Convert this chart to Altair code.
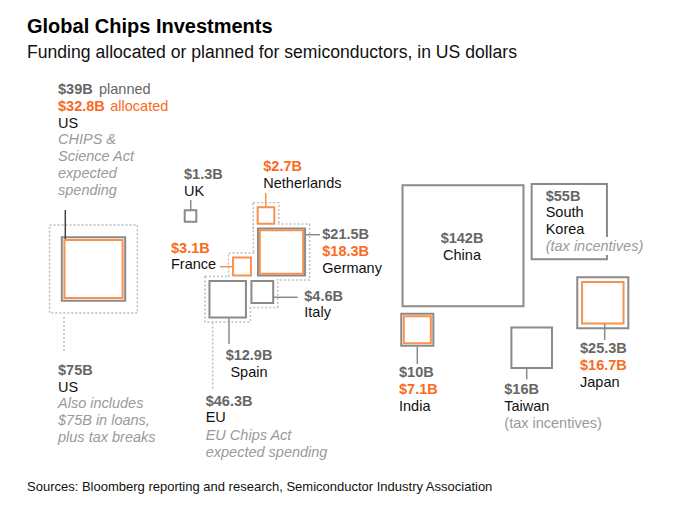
import altair as alt
import pandas as pd
import numpy as np

# ---------------- data (US$ billions) ----------------
countries = ["US", "UK", "Netherlands", "Germany", "France", "Italy", "Spain",
             "China", "South Korea", "India", "Taiwan", "Japan"]
planned = [39, 1.3, None, 21.5, None, 4.6, 12.9, 142, 55, 10, 16, 25.3]
allocated = [32.8, None, 2.7, 18.3, 3.1, None, None, None, None, 7.1, None, 16.7]
us_total = 75
eu_total = 46.3
eu_members = ["Netherlands", "Germany", "France", "Italy", "Spain"]

# ---------------- layout (square centres, in page pixels) ----------------
center_x = [93.5, 190.5, 266, 281.5, 242, 262.3, 227.7, 463, 569.3, 417.3, 531.7, 602.8]
center_y = [269, 216, 215.5, 252, 266.5, 292, 299.3, 245.8, 221.7, 329.7, 347.7, 302.7]

K = 10.15      # px of side per sqrt($B)
PAD = 9        # extra side for the dotted EU outline

ORANGE_TXT = "#fb6a22"
ORANGE_BOX = "#f8914d"
GRAY_BOX = "#8a8a8a"
GRAY_TXT = "#666666"
NOTE = "#9a9a9a"
DOT = "#bdbdbd"
FONT = "Liberation Sans"

W, H = 672, 495
xs = alt.Scale(domain=[8, 8 + W], range=[0, W], zero=False, nice=False)
ys = alt.Scale(domain=[8, 8 + H], range=[0, H], zero=False, nice=False)
size_scale = alt.Scale(domain=[0, 100], range=[0, 100 * K * K], zero=True)

sq = pd.DataFrame({"country": countries, "planned": planned, "allocated": allocated,
                   "cx": center_x, "cy": center_y})
gray_df = sq.dropna(subset=["planned"]).rename(columns={"planned": "value"})
orange_df = sq.dropna(subset=["allocated"]).rename(columns={"allocated": "value"})

us_df = sq[sq.country == "US"].assign(value=us_total)

eu = sq[sq.country.isin(eu_members)].copy()
eu["value"] = eu["planned"].fillna(eu["allocated"])
eu["side"] = K * np.sqrt(eu["value"]) + PAD
eu["outline_size"] = eu["side"] ** 2
eu["cover_size"] = (eu["side"] - 2) ** 2

def X(f="cx"):
    return alt.X(f"{f}:Q", scale=xs, axis=None)

def Y(f="cy"):
    return alt.Y(f"{f}:Q", scale=ys, axis=None)

layers = []
# US dotted total square
layers.append(alt.Chart(us_df).mark_square(filled=False, stroke=DOT, strokeWidth=1.5,
                                           strokeDash=[2, 2], opacity=1).encode(
    x=X(), y=Y(), size=alt.Size("value:Q", scale=size_scale, legend=None)))
# EU dotted outline (union of padded member squares)
layers.append(alt.Chart(eu).mark_square(filled=False, stroke=DOT, strokeWidth=1.5,
                                        strokeDash=[2, 2], opacity=1).encode(
    x=X(), y=Y(), size=alt.Size("outline_size:Q", scale=None, legend=None)))
layers.append(alt.Chart(eu).mark_square(filled=True, color="white", opacity=1).encode(
    x=X(), y=Y(), size=alt.Size("cover_size:Q", scale=None, legend=None)))

# leaders
dotted_leaders = pd.DataFrame({"x": [64, 212.7], "y": [317, 322.5], "x2": [64, 212.7], "y2": [352, 388.5]})
layers.append(alt.Chart(dotted_leaders).mark_rule(color=DOT, strokeWidth=1.5, strokeDash=[2, 2]).encode(
    x=X("x"), y=Y("y"), x2="x2:Q", y2="y2:Q"))

# squares
layers.append(alt.Chart(gray_df).mark_square(filled=False, stroke=GRAY_BOX, strokeWidth=2, opacity=1).encode(
    x=X(), y=Y(), size=alt.Size("value:Q", scale=size_scale, legend=None)))
layers.append(alt.Chart(orange_df).mark_square(filled=False, stroke=ORANGE_BOX, strokeWidth=2, opacity=1).encode(
    x=X(), y=Y(), size=alt.Size("value:Q", scale=size_scale, legend=None)))

lead_x = [65.3, 190.7, 305.5, 274, 229, 417.3, 526.7, 604.7]
lead_y = [210, 200, 234.7, 297.3, 318.5, 346.5, 369, 324]
lead_x2 = [65.3, 190.7, 320, 297.7, 229, 417.3, 526.7, 604.7]
lead_y2 = [239, 210, 234.7, 297.3, 344, 364, 379.5, 340]
lead_c = ["#444444", GRAY_BOX, GRAY_BOX, GRAY_BOX, GRAY_BOX, GRAY_BOX, GRAY_BOX, GRAY_BOX]
gl = pd.DataFrame({"x": lead_x, "y": lead_y, "x2": lead_x2, "y2": lead_y2, "c": lead_c})
layers.append(alt.Chart(gl).mark_rule(strokeWidth=1.5).encode(
    x=X("x"), y=Y("y"), x2="x2:Q", y2="y2:Q", color=alt.Color("c:N", scale=None)))
ol = pd.DataFrame({"x": [265.7, 220], "y": [193, 266.7], "x2": [265.7, 233], "y2": [207, 266.7]})
layers.append(alt.Chart(ol).mark_rule(strokeWidth=1.5, color=ORANGE_BOX).encode(
    x=X("x"), y=Y("y"), x2="x2:Q", y2="y2:Q"))

# knockout behind South Korea note
ko = pd.DataFrame({"x": [603], "x2": [612], "y": [237], "y2": [255]})
layers.append(alt.Chart(ko).mark_rect(color="white", opacity=1).encode(
    x=X("x"), x2="x2:Q", y=Y("y"), y2="y2:Q"))

# ---------------- text ----------------
labels = [
    # text, x, y(baseline), style, align
    ("$39B", 58, 94.3, "val", "left"), ("planned", 99, 94.3, "gray", "left"),
    ("$32.8B", 58, 111, "valo", "left"), ("allocated", 110.3, 111, "orange", "left"),
    ("US", 58, 127.7, "name", "left"),
    ("CHIPS &", 58, 144.4, "note", "left"), ("Science Act", 58, 161.1, "note", "left"),
    ("expected", 58, 177.8, "note", "left"), ("spending", 58, 194.5, "note", "left"),
    ("$1.3B", 184, 179.3, "val", "left"), ("UK", 184, 196, "name", "left"),
    ("$2.7B", 263.3, 170.7, "valo", "left"), ("Netherlands", 263.3, 188, "name", "left"),
    ("$21.5B", 322.3, 239.3, "val", "left"), ("$18.3B", 322.3, 256, "valo", "left"),
    ("Germany", 322.3, 272.7, "name", "left"),
    ("$3.1B", 171, 252.7, "valo", "left"), ("France", 171, 269.3, "name", "left"),
    ("$4.6B", 304.3, 300.7, "val", "left"), ("Italy", 304.3, 317.3, "name", "left"),
    ("$12.9B", 249, 360, "val", "center"), ("Spain", 249, 377, "name", "center"),
    ("$46.3B", 205.7, 405.7, "val", "left"), ("EU", 205.7, 422.4, "name", "left"),
    ("EU Chips Act", 205.7, 439.5, "note", "left"), ("expected spending", 205.7, 456.5, "note", "left"),
    ("$75B", 58, 375, "val", "left"), ("US", 58, 391.7, "name", "left"),
    ("Also includes", 58, 408.4, "note", "left"), ("$75B in loans,", 58, 425.1, "note", "left"),
    ("plus tax breaks", 58, 441.8, "note", "left"),
    ("$142B", 462, 243.3, "val", "center"), ("China", 462, 260, "name", "center"),
    ("$55B", 545.7, 200.7, "val", "left"), ("South", 545.7, 217.3, "name", "left"),
    ("Korea", 545.7, 234, "name", "left"), ("(tax incentives)", 545.7, 250.7, "note", "left"),
    ("$10B", 399, 377.3, "val", "left"), ("$7.1B", 399, 394, "valo", "left"),
    ("India", 399, 410.7, "name", "left"),
    ("$16B", 504.3, 394, "val", "left"), ("Taiwan", 504.3, 410.7, "name", "left"),
    ("(tax incentives)", 504.3, 428.3, "tax", "left"),
    ("$25.3B", 580, 353.3, "val", "left"), ("$16.7B", 580, 370, "valo", "left"),
    ("Japan", 580, 386.7, "name", "left"),
]
tdf = pd.DataFrame(labels, columns=["text", "x", "y", "style", "align"])

styles = {
    "val": dict(fontWeight="bold", color=GRAY_TXT, fontStyle="normal"),
    "valo": dict(fontWeight="bold", color=ORANGE_TXT, fontStyle="normal"),
    "name": dict(fontWeight="normal", color="#111111", fontStyle="normal"),
    "note": dict(fontWeight="normal", color=NOTE, fontStyle="italic"),
    "gray": dict(fontWeight="normal", color=GRAY_TXT, fontStyle="normal"),
    "orange": dict(fontWeight="normal", color=ORANGE_TXT, fontStyle="normal"),
    "tax": dict(fontWeight="normal", color=NOTE, fontStyle="normal"),
}
for (st, al), sub in tdf.groupby(["style", "align"]):
    layers.append(alt.Chart(sub).mark_text(align=al, baseline="alphabetic", font=FONT,
                                           fontSize=14.5, **styles[st]).encode(
        x=X("x"), y=Y("y"), text="text:N"))

heads = pd.DataFrame({
    "text": ["Global Chips Investments",
             "Funding allocated or planned for semiconductors, in US dollars",
             "Sources: Bloomberg reporting and research, Semiconductor Industry Association"],
    "x": [27, 27, 27], "y": [33.3, 58.3, 490.7]})
layers.append(alt.Chart(heads.iloc[[0]]).mark_text(align="left", baseline="alphabetic", font=FONT,
                                                   fontSize=20, fontWeight="bold", color="#000000").encode(
    x=X("x"), y=Y("y"), text="text:N"))
layers.append(alt.Chart(heads.iloc[[1]]).mark_text(align="left", baseline="alphabetic", font=FONT,
                                                   fontSize=17.6, color="#111111").encode(
    x=X("x"), y=Y("y"), text="text:N"))
layers.append(alt.Chart(heads.iloc[[2]]).mark_text(align="left", baseline="alphabetic", font=FONT,
                                                   fontSize=13, color="#111111").encode(
    x=X("x"), y=Y("y"), text="text:N"))

chart = alt.layer(*layers).properties(
    width=W, height=H, padding=0, autosize=alt.AutoSizeParams(type="none"),
    background="white"
).configure_view(stroke=None)

chart.save("out.html", embed_options={"renderer": "svg", "actions": False})
